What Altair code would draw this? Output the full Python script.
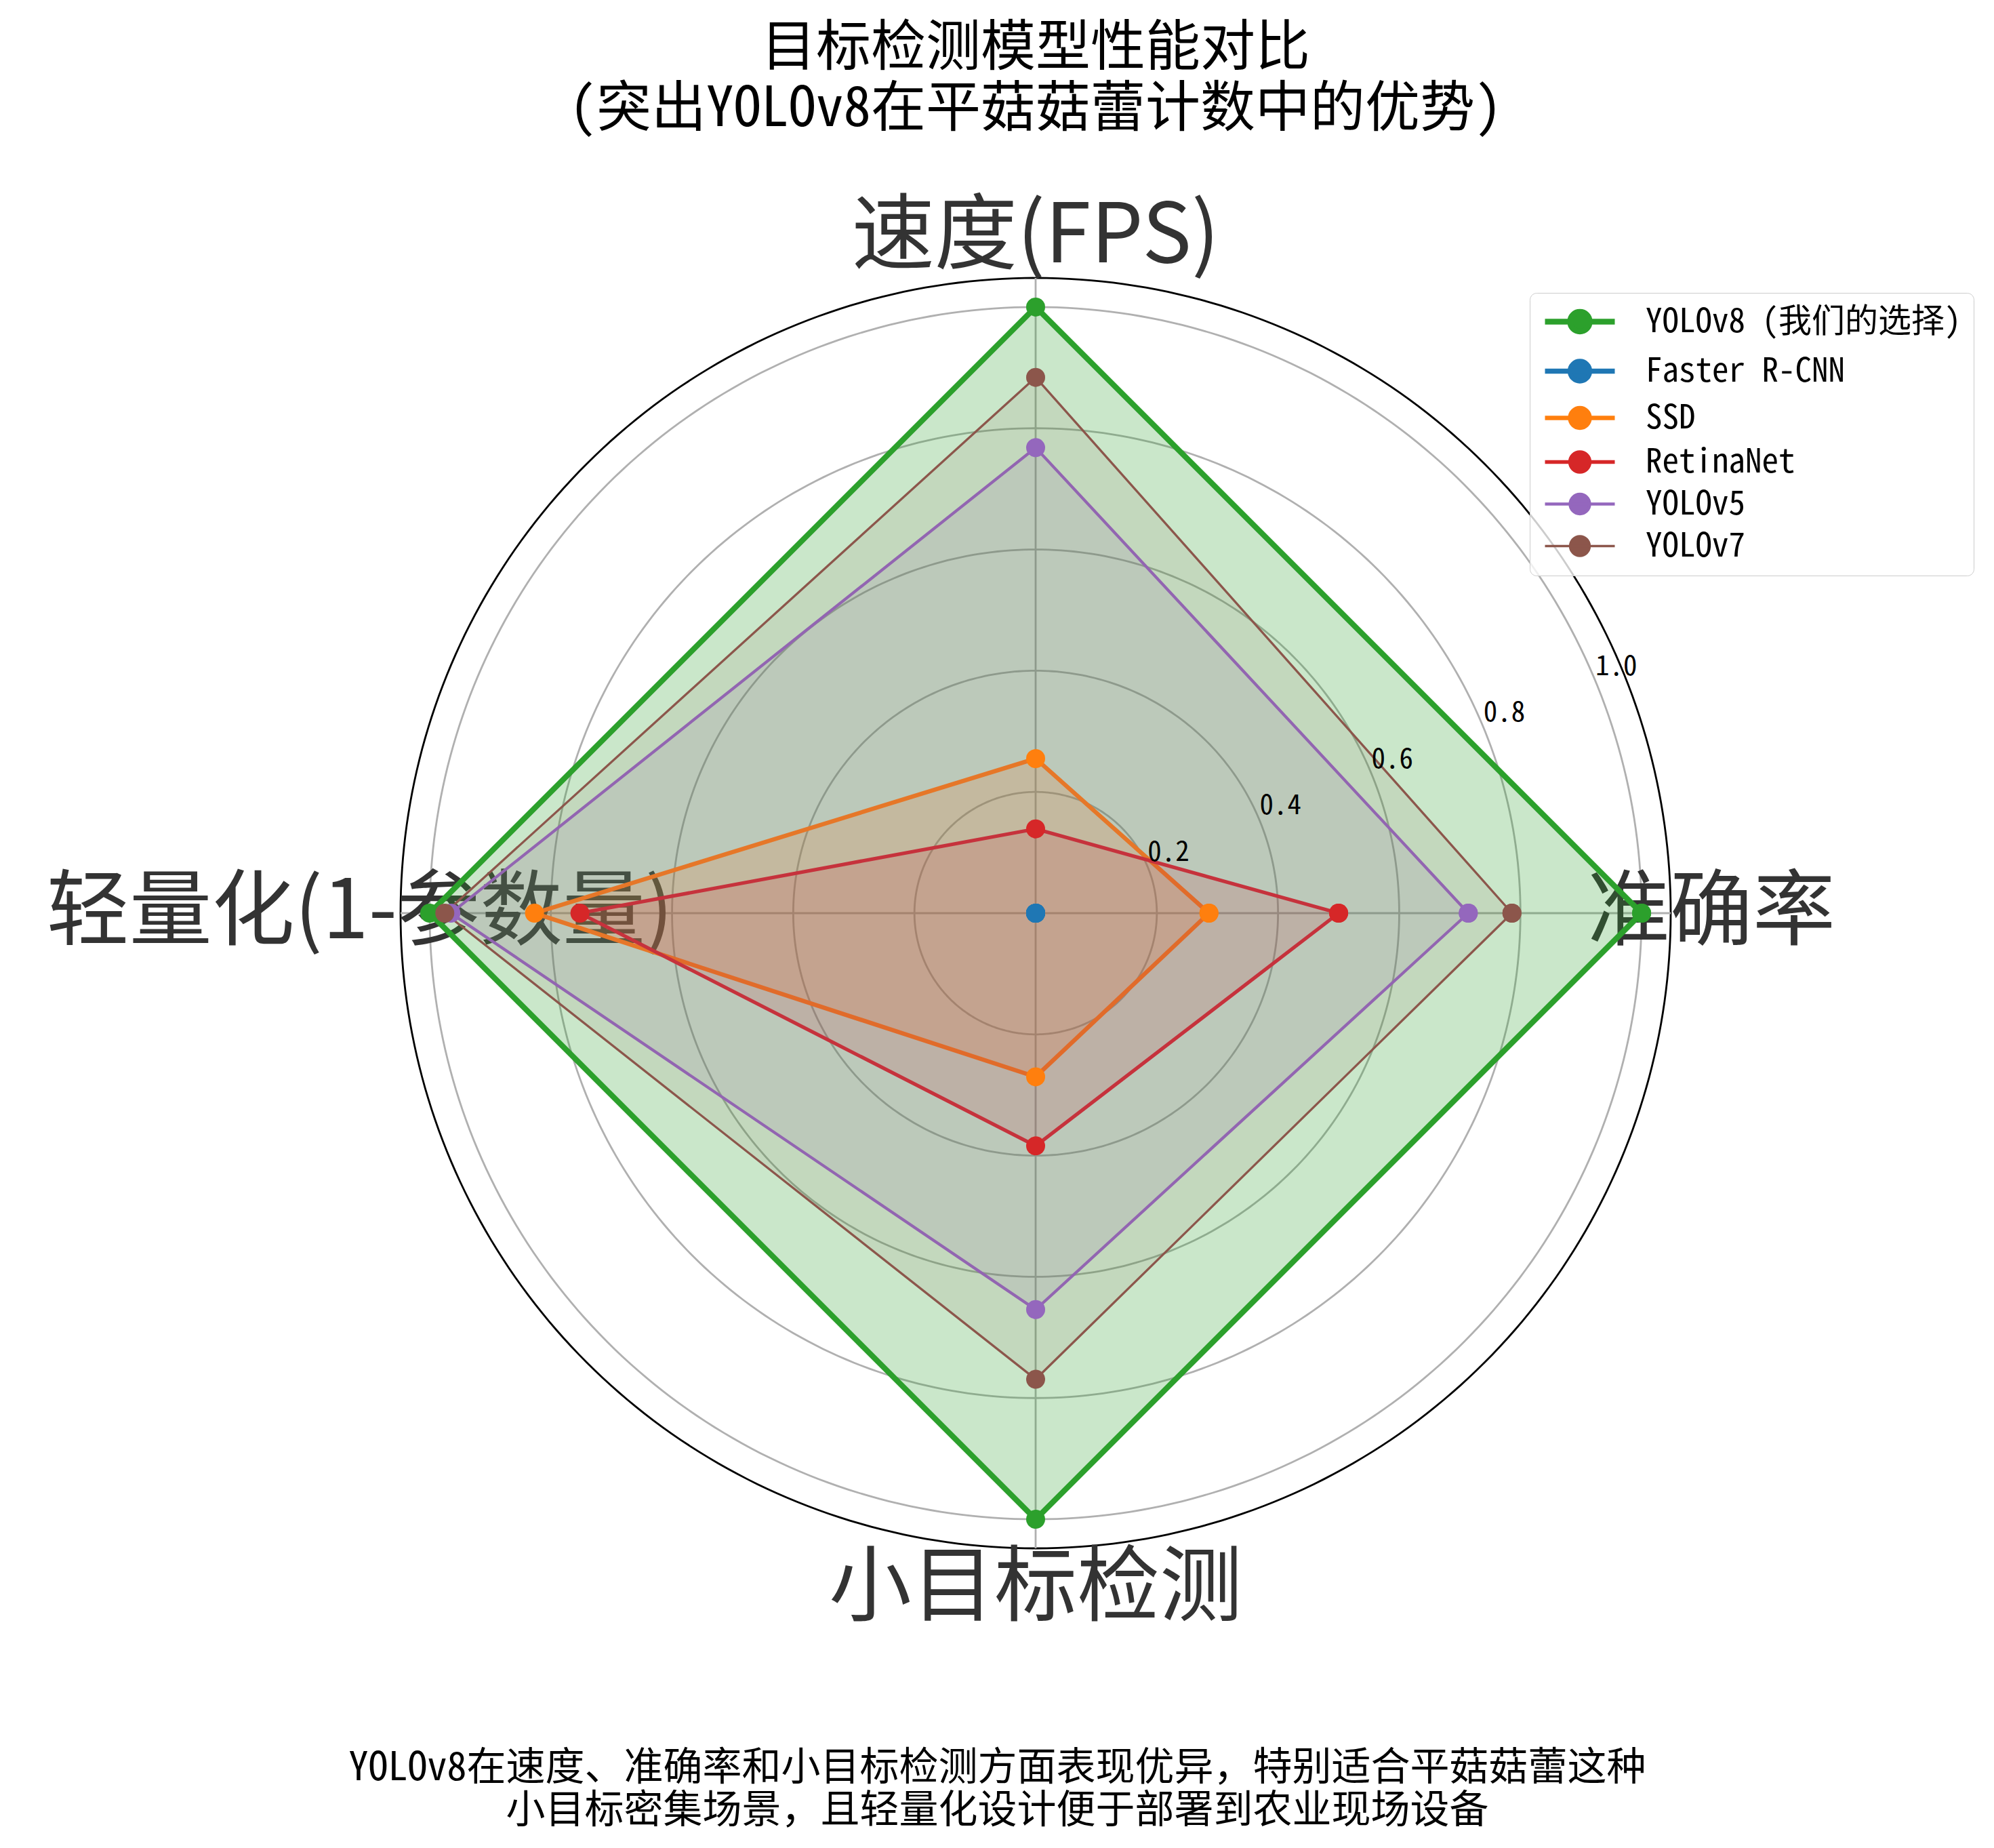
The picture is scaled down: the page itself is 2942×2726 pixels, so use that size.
import altair as alt
import pandas as pd
import numpy as np

# ---------------- data ----------------
categories = ["准确率", "速度(FPS)", "轻量化(1-参数量)", "小目标检测"]
category_angles = [0, 90, 180, 270]
models = ["YOLOv8 (我们的选择)", "Faster R-CNN", "SSD", "RetinaNet", "YOLOv5", "YOLOv7"]
colors = ["#2ca02c", "#1f77b4", "#ff7f0e", "#d62728", "#9467bd", "#8c564b"]
accuracy = [1.0, 0.0, 0.286, 0.500, 0.714, 0.786]
speed = [1.0, 0.0, 0.255, 0.139, 0.768, 0.884]
lightweight = [1.0, 0.0, 0.827, 0.752, 0.965, 0.975]
small_object = [1.0, 0.0, 0.270, 0.384, 0.654, 0.769]
line_widths = [8.3, 3.3, 3.3, 3.3, 3.3, 3.3]
fill_opacities = [0.25, 0.1, 0.1, 0.1, 0.1, 0.1]
grid_levels = [0.2, 0.4, 0.6, 0.8, 1.0]
tick_labels = ["0.2", "0.4", "0.6", "0.8", "1.0"]
R_MAX = 1.048
TICK_ANGLE = 22.5
LABEL_R = 1.115

title_lines = ["目标检测模型性能对比", "(突出YOLOv8在平菇菇蕾计数中的优势)"]
footnote_lines = ["YOLOv8在速度、准确率和小目标检测方面表现优异，特别适合平菇菇蕾这种",
                  "小目标密集场景，且轻量化设计便于部署到农业现场设备"]

MONO = "Noto Sans Mono CJK SC, DejaVu Sans Mono, Noto Sans CJK SC"
SANS = "Noto Sans CJK SC"

# ---------------- tables ----------------
series = [accuracy, speed, lightweight, small_object]
rows = []
for i, m in enumerate(models):
    for k in range(len(categories) + 1):
        kk = k % len(categories)
        rows.append({"model": m, "idx": k, "angle": category_angles[kk],
                     "value": series[kk][i]})
df = pd.DataFrame(rows)

deg = np.arange(0, 361, 1)
grid_rows = []
for lv in grid_levels + [R_MAX]:
    for d in deg:
        grid_rows.append({"level": lv, "deg": float(d)})
grid_df = pd.DataFrame(grid_rows)

spoke_df = pd.DataFrame({"angle": category_angles, "r": [R_MAX] * len(category_angles)})
cat_df = pd.DataFrame({"cat": categories, "angle": category_angles})
tick_df = pd.DataFrame({"label": tick_labels, "r": grid_levels})

xs = alt.Scale(domain=[-R_MAX, R_MAX], nice=False, zero=False, padding=0)
ys = alt.Scale(domain=[-R_MAX, R_MAX], nice=False, zero=False, padding=0)
col_scale = alt.Scale(domain=models, range=colors)

# symbol: unit = sqrt(size)/2 = 20 px ; line 103 px long starting at box left, marker r 14.5 px
legend = alt.Legend(
    title=None, orient="none", legendX=1666, legendY=22,
    symbolType="M-1,0L4.15,0M2.3,0A0.725,0.725,0,1,1,0.85,0A0.725,0.725,0,1,1,2.3,0Z",
    symbolSize=1600, symbolStrokeWidth=3.3, symbolOpacity=1,
    labelFont=MONO, labelFontSize=49, labelColor="black", labelOffset=104,
    rowPadding=12, padding=18, strokeColor="#cccccc", fillColor="rgba(255,255,255,0.8)",
    cornerRadius=10, labelLimit=1000,
)

foot_axis = alt.Axis(
    title=footnote_lines, titleFont=MONO, titleFontSize=58, titleFontWeight="normal",
    titleColor="black", titleLineHeight=63, titlePadding=295,
    titleX=880, titleAlign="center",
    labels=False, ticks=False, domain=False, grid=False)

base_xy = dict(
    x=alt.X("x:Q", scale=xs, axis=foot_axis),
    y=alt.Y("y:Q", scale=ys, axis=None),
)

grid = alt.Chart(grid_df).transform_calculate(
    x="datum.level * cos(datum.deg * PI / 180)",
    y="datum.level * sin(datum.deg * PI / 180)",
    isouter="datum.level > 1.01 ? 'outer' : 'grid'",
).mark_line(strokeWidth=2.8).encode(
    **base_xy,
    detail="level:N",
    order="deg:Q",
    color=alt.Color("isouter:N", scale=alt.Scale(domain=["grid", "outer"], range=["#b0b0b0", "#000000"]), legend=None),
)

spokes = alt.Chart(spoke_df).transform_calculate(
    x0="0", y0="0",
    x1="datum.r * cos(datum.angle * PI / 180)",
    y1="datum.r * sin(datum.angle * PI / 180)",
).mark_rule(color="#b0b0b0", strokeWidth=2.8).encode(
    x=alt.X("x0:Q", scale=xs, axis=foot_axis),
    y=alt.Y("y0:Q", scale=ys, axis=None),
    x2="x1:Q", y2="y1:Q",
)

cat_labels = alt.Chart(cat_df).transform_calculate(
    x=f"{LABEL_R} * cos(datum.angle * PI / 180)",
    y=f"{LABEL_R} * sin(datum.angle * PI / 180)",
).mark_text(font=SANS, fontSize=122, color="#333333", align="center", baseline="middle").encode(
    **base_xy, text="cat:N",
)

poly_src = alt.Chart(df).transform_calculate(
    x="datum.value * cos(datum.angle * PI / 180)",
    y="datum.value * sin(datum.angle * PI / 180)",
)

polys = poly_src.mark_line().encode(
    **base_xy,
    order="idx:Q",
    stroke=alt.Stroke("model:N", scale=col_scale, legend=legend, sort=models),
    fill=alt.Fill("model:N", scale=col_scale, legend=legend, sort=models),
    fillOpacity=alt.FillOpacity("model:N", scale=alt.Scale(domain=models, range=fill_opacities), legend=None),
    strokeWidth=alt.StrokeWidth("model:N", scale=alt.Scale(domain=models, range=line_widths), legend=None),
)

points = poly_src.mark_point(filled=True, size=784, opacity=1).encode(
    **base_xy,
    fill=alt.Fill("model:N", scale=col_scale, legend=None),
)

ticks = alt.Chart(tick_df).transform_calculate(
    x=f"datum.r * cos({TICK_ANGLE} * PI / 180)",
    y=f"datum.r * sin({TICK_ANGLE} * PI / 180)",
).mark_text(font=MONO, fontSize=41, color="black", align="left", baseline="bottom").encode(
    **base_xy, text="label:N",
)

chart = alt.layer(grid, spokes, cat_labels, polys, points, ticks).properties(
    width=1874, height=1874,
    padding={"left": 583, "top": 402, "right": 469, "bottom": 434},
    autosize=alt.AutoSizeParams(type="none"),
    title=alt.TitleParams(
        text=title_lines, font=MONO, fontSize=81, fontWeight="normal", color="black",
        anchor="middle", lineHeight=90, offset=86,
    ),
).configure_view(strokeWidth=0).resolve_scale(fill="shared", stroke="shared")

chart.save("out.html", embed_options={"renderer": "svg", "actions": False})
